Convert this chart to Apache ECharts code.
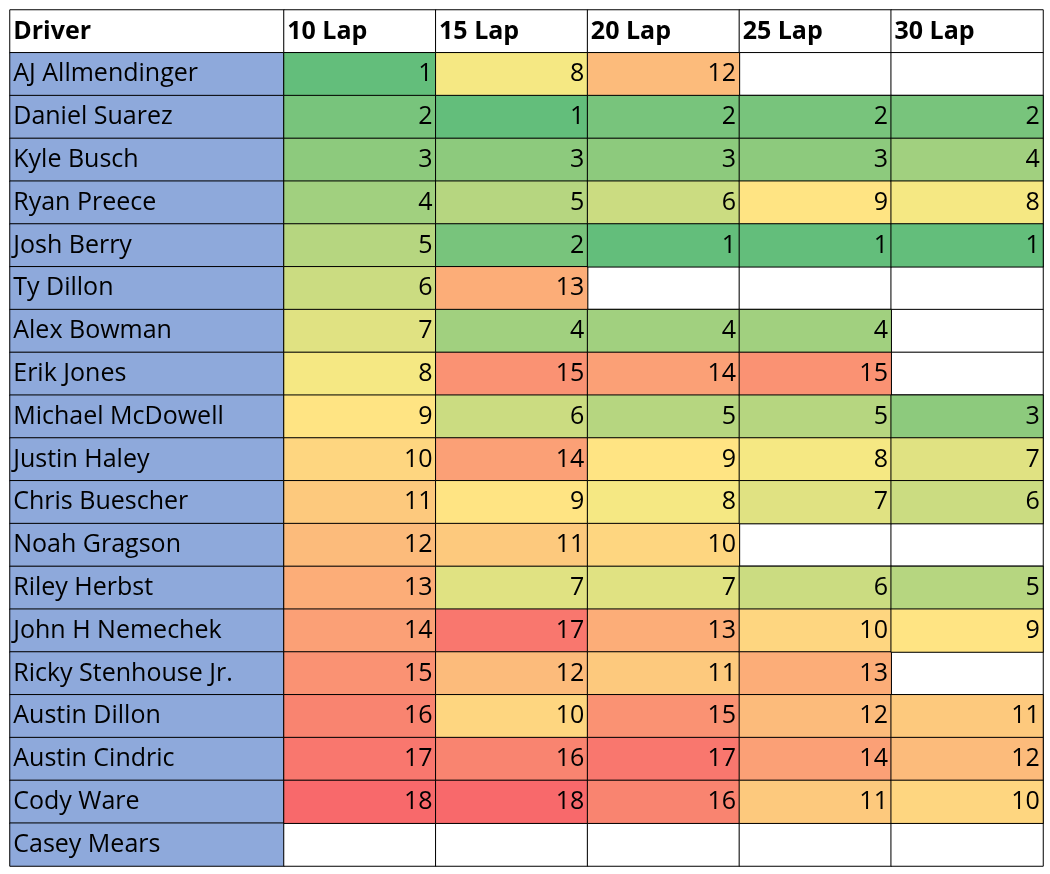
<!DOCTYPE html>
<html><head><meta charset="utf-8">
<script src="https://cdn.jsdelivr.net/npm/echarts@6/dist/echarts.min.js"></script>
<style>html,body{margin:0;padding:0;background:#fff}#c{width:1050px;height:874px}</style>
</head><body><div id="c"></div>
<script>
const drivers = ["AJ Allmendinger","Daniel Suarez","Kyle Busch","Ryan Preece","Josh Berry","Ty Dillon","Alex Bowman","Erik Jones","Michael McDowell","Justin Haley","Chris Buescher","Noah Gragson","Riley Herbst","John H Nemechek","Ricky Stenhouse Jr.","Austin Dillon","Austin Cindric","Cody Ware","Casey Mears"];
const laps = ["10 Lap","15 Lap","20 Lap","25 Lap","30 Lap"];
const lap10 = [1,2,3,4,5,6,7,8,9,10,11,12,13,14,15,16,17,18,null];
const lap15 = [8,1,3,5,2,13,4,15,6,14,9,11,7,17,12,10,16,18,null];
const lap20 = [12,2,3,6,1,null,4,14,5,9,8,10,7,13,11,15,17,16,null];
const lap25 = [null,2,3,9,1,null,4,15,5,8,7,null,6,10,13,12,14,11,null];
const lap30 = [null,2,4,8,1,null,null,null,3,7,6,null,5,9,null,11,12,10,null];
const cols = [lap10,lap15,lap20,lap25,lap30];

const rows = ["Driver", ...drivers];
const font = "'Open Sans', 'Noto Sans', sans-serif";
const border = {borderColor:'#000', borderWidth:1};

function hex(c){return [1,3,5].map(i=>parseInt(c.slice(i,i+2),16));}
function mix(a,b,t){const A=hex(a),B=hex(b);return 'rgb('+A.map((v,i)=>Math.round(v+(B[i]-v)*t)).join(',')+')';}
const G='#63BE7B',Y='#FFEB84',R='#F8696B';
const scale=[];
for(let v=1;v<=18;v++){scale.push(v<=8.5?mix(G,Y,(v-1)/7.5):mix(Y,R,(v-8.5)/9.5));}

const headerCells = laps.map((l,i)=>[i,0,0]);
const blankCells = [];
for(let i=0;i<laps.length;i++)for(let r=1;r<rows.length;r++)blankCells.push([i,r,0]);
const valueCells = [];
cols.forEach((c,i)=>c.forEach((v,r)=>{if(v!=null)valueCells.push([i,r+1,v]);}));
const driverCells = rows.map((d,r)=>[0,r,0]);

const hidden = {axisLine:{show:false},axisTick:{show:false},axisLabel:{show:false},splitLine:{show:false}};
const chart = echarts.init(document.getElementById('c'));
chart.setOption({
  animation:false,
  grid:[{left:10,width:274,top:10,bottom:8},{left:284,right:7,top:10,bottom:8}],
  xAxis:[{type:'category',data:['Driver'],gridIndex:0,...hidden},{type:'category',data:laps,gridIndex:1,...hidden}],
  yAxis:[{type:'category',data:rows,inverse:true,gridIndex:0,...hidden},{type:'category',data:rows,inverse:true,gridIndex:1,...hidden}],
  visualMap:{show:false,seriesIndex:3,min:1,max:18,dimension:2,inRange:{color:scale}},
  series:[
    {type:'heatmap',xAxisIndex:0,yAxisIndex:0,data:driverCells,
     itemStyle:{...border,color:function(p){return p.data[1]===0?'#fff':'#8EA9DB';}},
     label:{show:true,position:'insideLeft',distance:4,
       formatter:p=>p.data[1]===0?'{b|'+rows[p.data[1]]+'}':rows[p.data[1]],
       rich:{b:{fontWeight:'bold',fontSize:25,fontFamily:font,color:'#000'}},
       color:'#000',fontFamily:font,fontSize:25},
     emphasis:{disabled:true}},
    {type:'heatmap',xAxisIndex:1,yAxisIndex:1,data:headerCells,itemStyle:{...border,color:'#fff'},
     label:{show:true,position:'insideLeft',distance:4,formatter:p=>laps[p.data[0]],color:'#000',fontFamily:font,fontSize:25,fontWeight:'bold'},
     emphasis:{disabled:true}},
    {type:'heatmap',xAxisIndex:1,yAxisIndex:1,data:blankCells,itemStyle:{...border,color:'#fff'},emphasis:{disabled:true}},
    {type:'heatmap',xAxisIndex:1,yAxisIndex:1,data:valueCells,itemStyle:border,
     label:{show:true,position:'insideRight',distance:4,formatter:p=>p.data[2],color:'#000',fontFamily:font,fontSize:25},
     emphasis:{disabled:true}}
  ]
});
</script></body></html>
